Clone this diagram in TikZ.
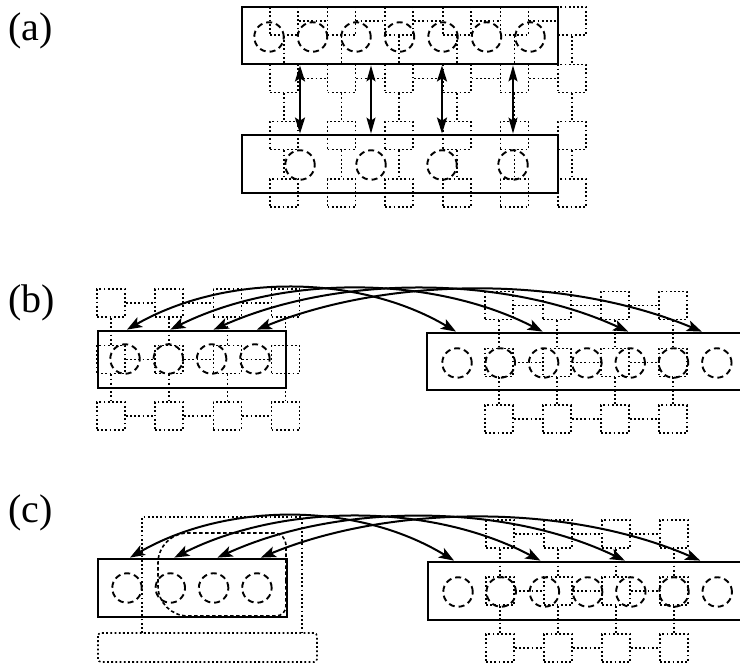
\documentclass[tikz,border=0pt]{standalone}
\usepackage{fontspec}
\setmainfont{Liberation Serif}
\usetikzlibrary{arrows.meta,calc}
\begin{document}
\begin{tikzpicture}[x=1pt,y=-1pt,
  pbox/.style={draw, line width=2.8pt, inner sep=0pt},
  proc/.style={draw, ellipse/.try, circle, dash pattern=on 6pt off 4pt, line width=1.9pt, minimum size=29.5pt, inner sep=0pt},
  cell/.style={draw, line width=1.6pt, dash pattern=on 1.8pt off 2.4pt, minimum size=28pt, inner sep=0pt},
  link/.style={line width=1.6pt, dash pattern=on 1.8pt off 2.4pt},
  vthick/.style={line width=2.4pt, {Stealth[length=16pt,width=10pt,inset=3pt]}-{Stealth[length=16pt,width=10pt,inset=3pt]}},
  vthin/.style={line width=1.6pt, {Stealth[length=16pt,width=9pt,inset=3pt]}-{Stealth[length=16pt,width=9pt,inset=3pt]}},
  arcarrow/.style={line width=2pt, {Stealth[length=15pt,width=11pt,inset=3.5pt]}-{Stealth[length=15pt,width=11pt,inset=3.5pt]}},
  loopst/.style={line width=1.6pt, dash pattern=on 3.5pt off 2.5pt},
  lab/.style={font=\fontsize{40}{44}\selectfont, anchor=base west, inner sep=0pt}
]
\path[use as bounding box, clip] (0,0) rectangle (740,664);

% ---------------- labels
\node[lab] (la) at (8,40) {(a)};
\node[lab] (lb) at (8,312) {(b)};
\node[lab] (lc) at (8,522) {(c)};

% ---------------- (a) mesh 4 x 6
\foreach \r in {1,...,4}{
  \foreach \c in {1,...,6}{
    \node[cell] (a\r-\c) at ({284+(\c-1)*57.6},{21+(\r-1)*57.3}) {};
  }
}
\foreach \r in {1,...,4}{
  \foreach \c [count=\n from 2] in {1,...,5}{
    \draw[link] (a\r-\c.east) -- (a\r-\n.west);
  }
}
\foreach \r [count=\n from 2] in {1,...,3}{
  \foreach \c in {1,...,6}{
    \draw[link] (a\r-\c.south) -- (a\n-\c.north);
  }
}

% ---------------- (a) boxes and processes
\node[pbox, minimum width=316pt, minimum height=57pt] (atop) at (400,35.5) {};
\node[pbox, minimum width=316pt, minimum height=58pt] (abot) at (400,164) {};
\foreach \i in {1,...,7}{
  \node[proc] (at\i) at ({269+(\i-1)*43.5},37) {};
}
\foreach \i in {1,...,4}{
  \node[proc] (ab\i) at ({300+(\i-1)*71},165) {};
}
\draw[vthick] (ab1 |- atop.south) -- (ab1 |- abot.north);
\draw[vthin]  (ab2 |- atop.south) -- (ab2 |- abot.north);
\draw[vthick] (ab3 |- atop.south) -- (ab3 |- abot.north);
\draw[vthin]  (ab4 |- atop.south) -- (ab4 |- abot.north);

% ---------------- (b) meshes 3 x 4 and (c) right mesh
\foreach \r in {1,...,3}{
  \foreach \c in {1,...,4}{
    \node[cell] (bl\r-\c) at ({111+(\c-1)*58.2},{303+(\r-1)*56.5}) {};
    \node[cell] (br\r-\c) at ({499+(\c-1)*58},{305.5+(\r-1)*56.8}) {};
    \node[cell] (cr\r-\c) at ({500+(\c-1)*58},{534+(\r-1)*57}) {};
  }
}
\foreach \m in {bl,br,cr}{
  \foreach \r in {1,...,3}{
    \foreach \c [count=\n from 2] in {1,...,3}{
      \draw[link] (\m\r-\c.east) -- (\m\r-\n.west);
    }
  }
  \foreach \r [count=\n from 2] in {1,2}{
    \foreach \c in {1,...,4}{
      \draw[link] (\m\r-\c.south) -- (\m\n-\c.north);
    }
  }
}

% ---------------- (b) boxes and processes
\node[pbox, minimum width=188pt, minimum height=57pt] (bleft) at (192,359.5) {};
\node[pbox, minimum width=340pt, minimum height=57pt] (bright) at (597,361.5) {};
\foreach \i in {1,...,4}{
  \node[proc] (bl\i) at ({125+(\i-1)*43.3},359) {};
}
\foreach \i in {1,...,7}{
  \node[proc] (br\i) at ({457+(\i-1)*43.3},363) {};
}
\coordinate (bL1) at ($(bl1 |- bleft.north)+(2,0)$);
\coordinate (bL2) at ($(bl2 |- bleft.north)+(2,0)$);
\coordinate (bL3) at ($(bl3 |- bleft.north)+(2,0)$);
\coordinate (bL4) at ($(bl4 |- bleft.north)+(2,0)$);
\coordinate (bR1) at ($(br1 |- bright.north)+(-1,0)$);
\coordinate (bR3) at ($(br3 |- bright.north)+(-1,0)$);
\coordinate (bR5) at ($(br5 |- bright.north)+(-2,0)$);
\coordinate (bR7) at ($(br7 |- bright.north)+(-15,0)$);
\draw[arcarrow] (bL1) .. controls +(98,-56) and +(-98,-58) .. (bR1);
\draw[arcarrow] (bL2) .. controls +(111,-55) and +(-111,-57) .. (bR3);
\draw[arcarrow] (bL3) .. controls +(124,-55) and +(-124,-57) .. (bR5);
\draw[arcarrow] (bL4) .. controls +(134,-54) and +(-134,-56) .. (bR7);

% ---------------- (c) left partition
\draw[link] (142,633) -- (142,517) -- (302,517) -- (302,633);
\draw[link, rounded corners=3pt] (98,633) rectangle (317,662);
\node[pbox, minimum width=189pt, minimum height=58pt] (cleft) at (192.5,588) {};
\foreach \i in {1,...,4}{
  \node[proc] (cl\i) at ({127+(\i-1)*43.3},588) {};
}
\draw[loopst] (286,580) [rounded corners=10pt] -- (286,616) -- (220,616)
  [rounded corners=30pt] -- (158,616) -- (158,533) -- (220,533)
  [rounded corners=12pt] -- (286,533) -- (286,580);

% ---------------- (c) right
\node[pbox, minimum width=340pt, minimum height=58pt] (cright) at (598,591) {};
\foreach \i in {1,...,7}{
  \node[proc] (cr\i) at ({458+(\i-1)*43.2},592) {};
}
\coordinate (cL1) at ($(cl1 |- cleft.north)+(3,0)$);
\coordinate (cL2) at ($(cl2 |- cleft.north)+(4,0)$);
\coordinate (cL3) at ($(cl3 |- cleft.north)+(4,0)$);
\coordinate (cL4) at ($(cl4 |- cleft.north)+(4,0)$);
\coordinate (cR1) at ($(cr1 |- cright.north)+(-4,0)$);
\coordinate (cR3) at ($(cr3 |- cright.north)+(-4,0)$);
\coordinate (cR5) at ($(cr5 |- cright.north)+(-6,0)$);
\coordinate (cR7) at ($(cr7 |- cright.north)+(-17,0)$);
\draw[arcarrow] (cL1) .. controls +(97,-56) and +(-97,-59) .. (cR1);
\draw[arcarrow] (cL2) .. controls +(109,-55) and +(-109,-58) .. (cR3);
\draw[arcarrow] (cL3) .. controls +(121,-55) and +(-121,-58) .. (cR5);
\draw[arcarrow] (cL4) .. controls +(131,-54) and +(-131,-57) .. (cR7);
\end{tikzpicture}
\end{document}
